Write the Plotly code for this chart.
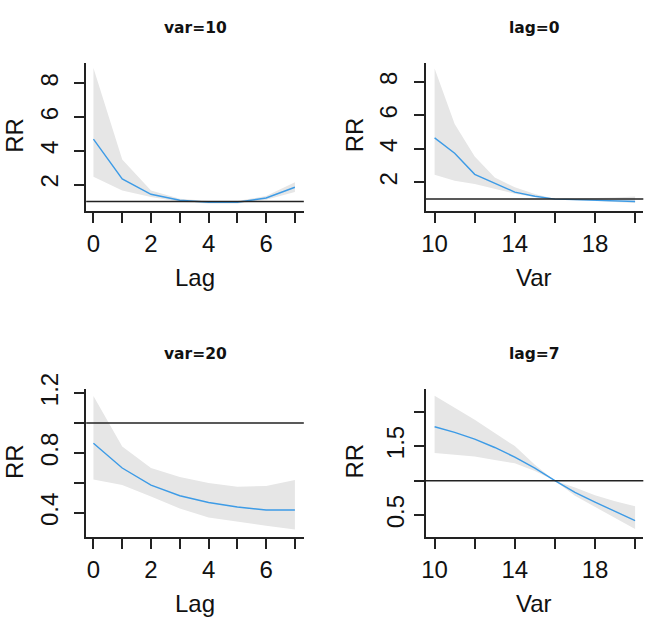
import plotly.graph_objects as go

# ---------------- data ----------------
lag = [0, 1, 2, 3, 4, 5, 6, 7]
var = [10, 11, 12, 13, 14, 15, 16, 17, 18, 19, 20]

# panel 1: var=10 (by lag)
fit_v10 = [4.69, 2.33, 1.42, 1.07, 0.95, 0.95, 1.20, 1.84]
low_v10 = [2.46, 1.65, 1.26, 0.98, 0.88, 0.88, 1.10, 1.55]
upp_v10 = [8.92, 3.49, 1.65, 1.16, 1.02, 1.02, 1.32, 2.13]

# panel 2: lag=0 (by var)
fit_l0 = [4.66, 3.74, 2.48, 1.94, 1.42, 1.17, 1.00, 0.97, 0.94, 0.89, 0.86]
low_l0 = [2.45, 2.10, 1.90, 1.61, 1.32, 1.12, 1.00, 0.92, 0.88, 0.82, 0.77]
upp_l0 = [8.80, 5.49, 3.55, 2.29, 1.71, 1.30, 1.00, 1.02, 1.05, 1.10, 1.15]

# panel 3: var=20 (by lag)
fit_v20 = [0.865, 0.70, 0.586, 0.515, 0.47, 0.44, 0.42, 0.42]
low_v20 = [0.623, 0.586, 0.51, 0.43, 0.37, 0.34, 0.315, 0.29]
upp_v20 = [1.18, 0.843, 0.70, 0.64, 0.60, 0.575, 0.58, 0.62]

# panel 4: lag=7 (by var)
fit_l7 = [1.78, 1.70, 1.60, 1.48, 1.34, 1.18, 1.00, 0.83, 0.69, 0.56, 0.42]
low_l7 = [1.40, 1.38, 1.35, 1.30, 1.25, 1.14, 1.00, 0.78, 0.62, 0.46, 0.30]
upp_l7 = [2.23, 2.06, 1.88, 1.69, 1.50, 1.23, 1.00, 0.90, 0.79, 0.70, 0.63]

titles = ["var=10", "lag=0", "var=20", "lag=7"]
xlabels = ["Lag", "Var", "Lag", "Var"]
ylabel = "RR"

lag_ticks = [0, 1, 2, 3, 4, 5, 6, 7]
lag_text = ["0", "", "2", "", "4", "", "6", ""]
var_ticks = [10, 12, 14, 16, 18, 20]
var_text = ["10", "", "14", "", "18", ""]
y1_ticks = [2, 4, 6, 8]
y1_text = ["2", "4", "6", "8"]
y3_ticks = [0.4, 0.6, 0.8, 1.0, 1.2]
y3_text = ["0.4", "", "0.8", "", "1.2"]
y4_ticks = [0.5, 1.0, 1.5, 2.0]
y4_text = ["0.5", "", "1.5", ""]

# ---------------- layout helpers ----------------
W, H = 645, 618
def px(x):
    return x / W
def py(y):
    return 1 - y / H

BLUE = "#3d9be6"
BAND = "#e6e6e6"
AX = "#222222"
FONT = "Liberation Sans, Arial, sans-serif"

panels = [
    dict(x=lag, fit=fit_v10, low=low_v10, upp=upp_v10,
         rect=(82.7, 301.7, 47, 200), xr=[-0.252, 7.31], yr=[0.40, 9.23],
         xt=(lag_ticks, lag_text), yt=(y1_ticks, y1_text), ystand=7),
    dict(x=var, fit=fit_l0, low=low_l0, upp=upp_l0,
         rect=(424.3, 643.3, 47, 200), xr=[9.554, 20.41], yr=[0.26, 9.15],
         xt=(var_ticks, var_text), yt=(y1_ticks, y1_text), ystand=7),
    dict(x=lag, fit=fit_v20, low=low_v20, upp=upp_v20,
         rect=(82.7, 301.7, 383, 535), xr=[-0.252, 7.31], yr=[0.238, 1.224],
         xt=(lag_ticks, lag_text), yt=(y3_ticks, y3_text), ystand=7),
    dict(x=var, fit=fit_l7, low=low_l7, upp=upp_l7,
         rect=(424.3, 643.3, 383, 535), xr=[9.554, 20.41], yr=[0.18, 2.32],
         xt=(var_ticks, var_text), yt=(y4_ticks, y4_text), ystand=0),
]

fig = go.Figure()
layout = dict(width=W, height=H, margin=dict(l=0, r=0, t=0, b=0),
              paper_bgcolor="white", plot_bgcolor="white", showlegend=False)
annotations = []
shapes = []

for i, p in enumerate(panels, start=1):
    xa = "x" if i == 1 else f"x{i}"
    ya = "y" if i == 1 else f"y{i}"
    fig.add_trace(go.Scatter(x=p["x"], y=p["low"], mode="lines",
                             line=dict(width=0, color=BAND), xaxis=xa, yaxis=ya,
                             hoverinfo="skip"))
    fig.add_trace(go.Scatter(x=p["x"], y=p["upp"], mode="lines", fill="tonexty",
                             fillcolor=BAND, line=dict(width=0, color=BAND),
                             xaxis=xa, yaxis=ya, hoverinfo="skip"))
    fig.add_trace(go.Scatter(x=p["x"], y=p["fit"], mode="lines",
                             line=dict(width=1.4, color=BLUE), xaxis=xa, yaxis=ya))
    x0, x1, y0, y1 = p["rect"]
    common = dict(showgrid=False, zeroline=False, showline=True, linecolor=AX,
                  linewidth=1.5, ticks="outside", ticklen=10, tickwidth=1.5,
                  tickcolor=AX, tickfont=dict(family=FONT, size=24, color="#111"),
                  fixedrange=True)
    layout["xaxis" if i == 1 else f"xaxis{i}"] = dict(
        common, domain=[px(x0), px(x1)], range=p["xr"],
        anchor=ya, tickmode="array", tickvals=p["xt"][0], ticktext=p["xt"][1],
        tickangle=0)
    layout["yaxis" if i == 1 else f"yaxis{i}"] = dict(
        common, domain=[py(y1), py(y0)], range=p["yr"],
        anchor=xa, tickmode="array", tickvals=p["yt"][0], ticktext=p["yt"][1],
        tickangle=-90, ticklabelstandoff=p["ystand"])
    # reference line at RR = 1
    shapes.append(dict(type="line", xref=f"{xa} domain", yref=ya, x0=0, x1=1,
                       y0=1, y1=1, line=dict(color=AX, width=1.5), layer="above"))
    cx = (x0 + x1) / 2
    annotations.append(dict(text=f"<b>{titles[i-1]}</b>", x=px(cx), y=py(y0 - 36),
                            xref="paper", yref="paper", showarrow=False,
                            xanchor="center", yanchor="middle",
                            font=dict(family="DejaVu Sans, sans-serif", size=15.5, color="#111")))
    annotations.append(dict(text=xlabels[i-1], x=px(cx), y=py(y1 + 68),
                            xref="paper", yref="paper", showarrow=False,
                            xanchor="center", yanchor="middle",
                            font=dict(family=FONT, size=24, color="#111")))
    annotations.append(dict(text=ylabel, x=px(x0 - 72), y=py((y0 + y1) / 2 - 2),
                            xref="paper", yref="paper", showarrow=False,
                            xanchor="center", yanchor="middle", textangle=-90,
                            font=dict(family=FONT, size=24, color="#111")))

layout["annotations"] = annotations
layout["shapes"] = shapes
fig.update_layout(**layout)
fig.write_html("out.html", config={"displayModeBar": False},
               post_script="document.body.style.margin='0';"
                           "document.body.style.padding='0';"
                           "document.documentElement.style.overflow='hidden';")
